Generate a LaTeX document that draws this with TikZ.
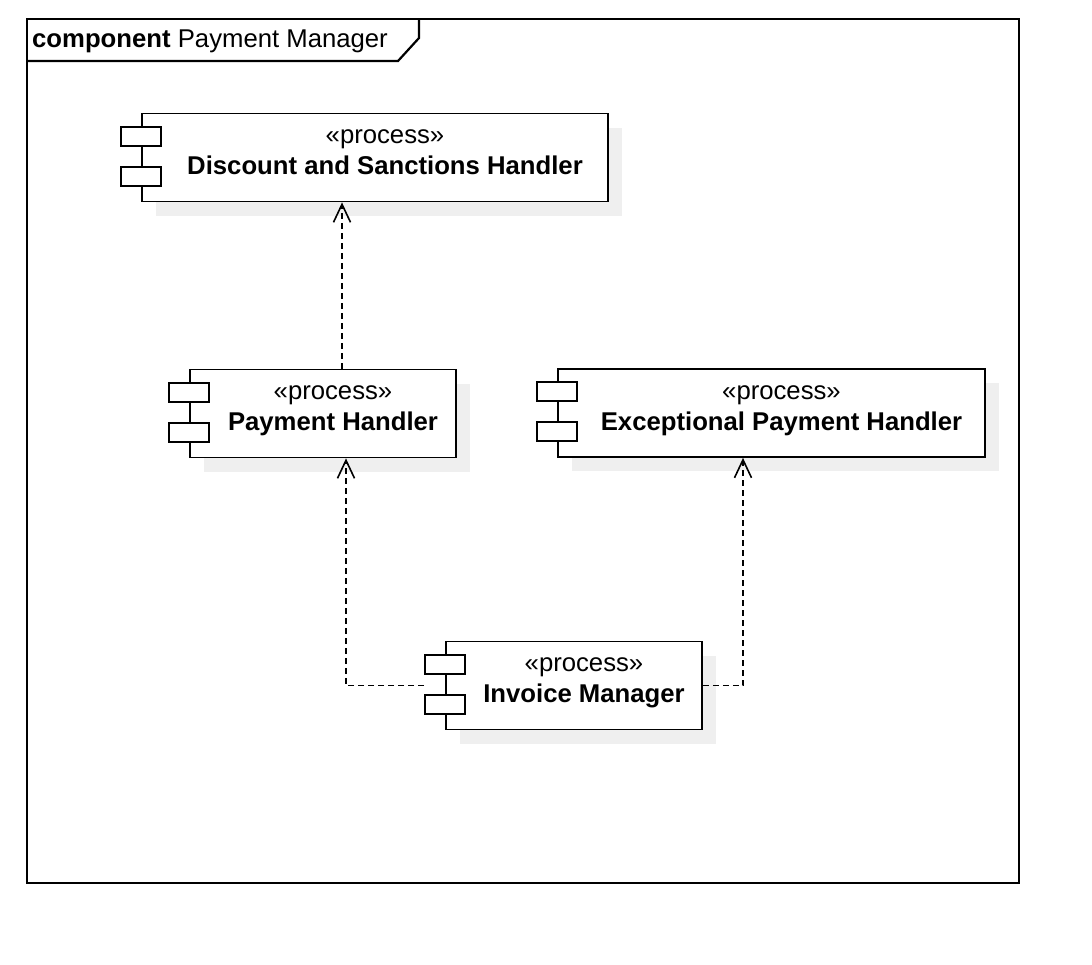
\documentclass[tikz,border=0pt]{standalone}
\usepackage{fontspec}
\setmainfont{Liberation Sans}
\usetikzlibrary{arrows.meta,calc}
\definecolor{shadowgray}{HTML}{EFEFEF}
\tikzset{
  x=1pt, y=-1pt,
  frameline/.style={draw=black, line width=2.2pt},
  compbox/.style={draw=black, fill=white, line width=1.8pt, rectangle, inner sep=0pt, minimum height=88pt},
  portbox/.style={draw=black, fill=white, line width=1.8pt},
  stereo/.style={font=\fontsize{25.7}{30}\selectfont, anchor=base, inner sep=0pt},
  cname/.style={font=\fontsize{25.7}{30}\selectfont\bfseries, anchor=base, inner sep=0pt},
  dep/.style={draw=black, line width=1.6pt, dash pattern=on 6pt off 4pt,
    -{Straight Barb[length=18pt,width=17pt,line width=1.6pt]}},
}
\newcommand{\compshape}[4]{% name, center x, center y, width
  \fill[shadowgray] ($(#2,#3)+(-#4/2+14,-30)$) rectangle ($(#2,#3)+(#4/2+14,58)$);
  \node[compbox, minimum width=#4pt] (#1) at (#2,#3) {};
  \draw[portbox] ($(#1.north west)+(-20,14)$) rectangle ($(#1.north west)+(20,33)$);
  \draw[portbox] ($(#1.north west)+(-20,54)$) rectangle ($(#1.north west)+(20,73)$);
  \node[stereo] (#1-st) at ($(#1.north)+(10,31)$) {«process»};
}
\begin{document}
\begin{tikzpicture}
\useasboundingbox (0,0) rectangle (1092,964);
% frame
\node[frameline, rectangle, inner sep=0pt, minimum width=992pt, minimum height=864pt, anchor=north west] (frame) at (26,18) {};
\draw[frameline, line join=miter] (26,61) -- (398,61) -- (419,38) -- (419,18);
\node[anchor=base west, inner sep=0pt, font=\fontsize{25.7}{30}\selectfont] (title) at (32,47) {\textbf{component} Payment Manager};

% components
\compshape{dsh}{375}{157.5}{466}
\node[cname] (dsh-name) at ($(dsh.north)+(10,62)$) {Discount and Sanctions Handler};
\compshape{ph}{323}{413.5}{266}
\node[cname] (ph-name) at ($(ph.north)+(10,62)$) {Payment Handler};
\compshape{eph}{771.5}{413}{427}
\node[cname] (eph-name) at ($(eph.north)+(10,62)$) {Exceptional Payment Handler};
\compshape{im}{574}{685.5}{256}
\node[cname] (im-name) at ($(im.north)+(10,62)$) {Invoice Manager};

% dependencies
\coordinate (imL) at ($(im.west)+(-21,0)$);
\draw[dep] ([xshift=19pt]ph.north) -- ([xshift=19pt]ph.north |- dsh.south);
\draw[dep] (imL) -| ([xshift=23pt]ph.south);
\draw[dep] (im.east) -| ([xshift=-28.5pt]eph.south);
\end{tikzpicture}
\end{document}
